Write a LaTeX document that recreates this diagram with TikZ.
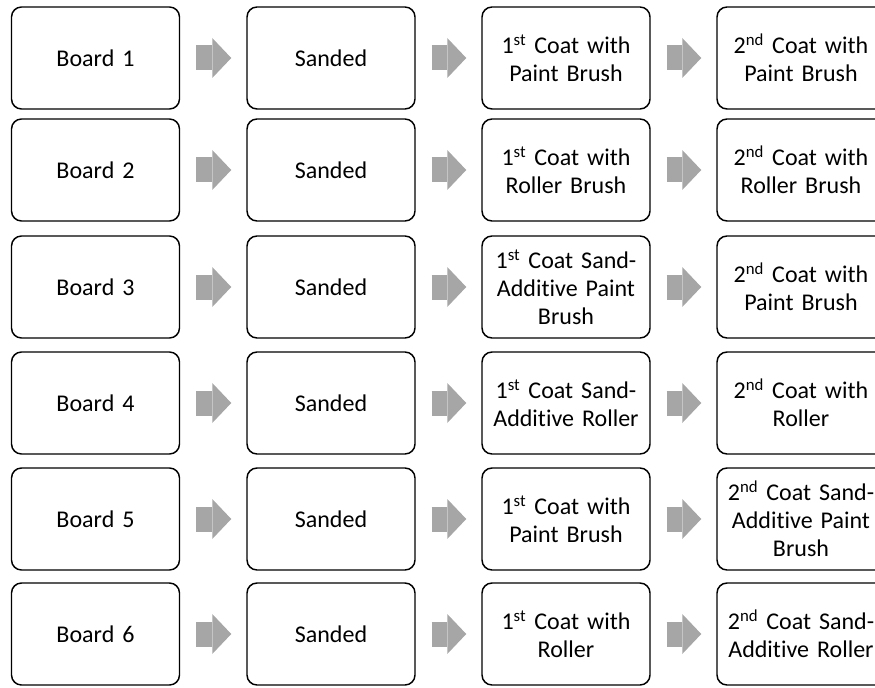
\documentclass[tikz,border=0pt]{standalone}
\usepackage{fontspec}
\setmainfont{Carlito}[RawFeature={-liga;-clig;-dlig;-calt}]
\usepackage{tikz}
\usetikzlibrary{positioning,arrows.meta}
\definecolor{arrowgray}{RGB}{166,166,166}

\begin{document}
\begin{tikzpicture}[
    x=0.75pt, y=-0.75pt,
    every node/.style={font=\fontsize{18}{21}\selectfont},
    stage/.style={draw, line width=1.1pt, rounded corners=7.5pt, minimum width=126pt, minimum height=76.5pt, inner sep=0pt, text width=122pt, align=center},
    blockarrow/.style={draw=arrowgray, line width=18.75pt, -{Triangle[width=30pt, length=14.25pt, line width=0pt]}, shorten <=12pt, shorten >=11.25pt}
]
\useasboundingbox (0,0) rectangle (875,688);
\clip (0,0) rectangle (875,688);

% Board 1
\node[stage] (b1) at (95.5, 58) {Board 1};
\node[stage] (s1) at (331, 58) {Sanded};
\node[stage] (c1) at (566, 58) {1\textsuperscript{st} Coat with\\Paint Brush};
\node[stage] (d1) at (801, 58) {2\textsuperscript{nd} Coat with\\Paint Brush};

% Board 2
\node[stage] (b2) at (95.5, 170) {Board 2};
\node[stage] (s2) at (331, 170) {Sanded};
\node[stage] (c2) at (566, 170) {1\textsuperscript{st} Coat with\\Roller Brush};
\node[stage] (d2) at (801, 170) {2\textsuperscript{nd} Coat with\\Roller Brush};

% Board 3
\node[stage] (b3) at (95.5, 287) {Board 3};
\node[stage] (s3) at (331, 287) {Sanded};
\node[stage] (c3) at (566, 287) {1\textsuperscript{st} Coat Sand-\\Additive Paint\\Brush};
\node[stage] (d3) at (801, 287) {2\textsuperscript{nd} Coat with\\Paint Brush};

% Board 4
\node[stage] (b4) at (95.5, 403) {Board 4};
\node[stage] (s4) at (331, 403) {Sanded};
\node[stage] (c4) at (566, 403) {1\textsuperscript{st} Coat Sand-\\Additive Roller};
\node[stage] (d4) at (801, 403) {2\textsuperscript{nd} Coat with\\Roller};

% Board 5
\node[stage] (b5) at (95.5, 519) {Board 5};
\node[stage] (s5) at (331, 519) {Sanded};
\node[stage] (c5) at (566, 519) {1\textsuperscript{st} Coat with\\Paint Brush};
\node[stage] (d5) at (801, 519) {2\textsuperscript{nd} Coat Sand-\\Additive Paint\\Brush};

% Board 6
\node[stage] (b6) at (95.5, 634) {Board 6};
\node[stage] (s6) at (331, 634) {Sanded};
\node[stage] (c6) at (566, 634) {1\textsuperscript{st} Coat with\\Roller};
\node[stage] (d6) at (801, 634) {2\textsuperscript{nd} Coat Sand-\\Additive Roller};

% Flèches
\draw[blockarrow] (b1) -- (s1);
\draw[blockarrow] (s1) -- (c1);
\draw[blockarrow] (c1) -- (d1);
\draw[blockarrow] (b2) -- (s2);
\draw[blockarrow] (s2) -- (c2);
\draw[blockarrow] (c2) -- (d2);
\draw[blockarrow] (b3) -- (s3);
\draw[blockarrow] (s3) -- (c3);
\draw[blockarrow] (c3) -- (d3);
\draw[blockarrow] (b4) -- (s4);
\draw[blockarrow] (s4) -- (c4);
\draw[blockarrow] (c4) -- (d4);
\draw[blockarrow] (b5) -- (s5);
\draw[blockarrow] (s5) -- (c5);
\draw[blockarrow] (c5) -- (d5);
\draw[blockarrow] (b6) -- (s6);
\draw[blockarrow] (s6) -- (c6);
\draw[blockarrow] (c6) -- (d6);

\end{tikzpicture}
\end{document}
